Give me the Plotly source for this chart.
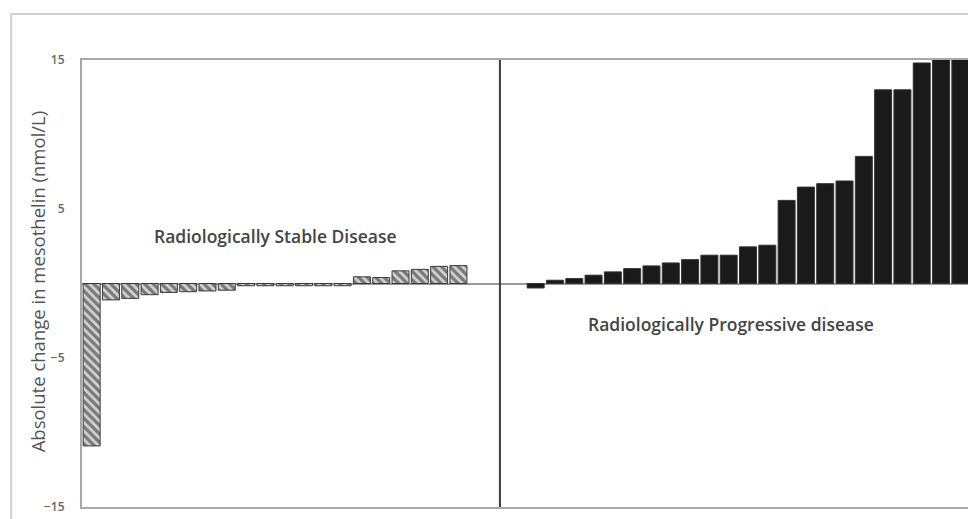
import plotly.graph_objects as go

# Data
stable_values = [-10.9, -1.1, -1.0, -0.75, -0.6, -0.55, -0.5, -0.45,
                 -0.15, -0.15, -0.15, -0.15, -0.15, -0.15,
                 0.45, 0.4, 0.85, 0.95, 1.15, 1.2]
progressive_values = [-0.3, 0.22, 0.33, 0.56, 0.78, 1.0, 1.18, 1.38, 1.6,
                      1.9, 1.9, 2.46, 2.57, 5.58, 6.47, 6.7, 6.88, 8.53,
                      13.0, 13.0, 14.8, 16.5, 18.0]
n_gap = 3
y_ticks = [-15, -5, 5, 15]
y_title = "Absolute change in mesothelin (nmol/L)"
label_stable = "Radiologically Stable Disease"
label_progressive = "Radiologically Progressive disease"

stable_x = list(range(len(stable_values)))
prog_start = len(stable_values) + n_gap
progressive_x = list(range(prog_start, prog_start + len(progressive_values)))
n_total = prog_start + len(progressive_values)
divider_x = len(stable_values) + 1.15

font_family = "Open Sans, Noto Sans, sans-serif"

# page body has an 8px margin; plot area in figure coords
L, T, PW, PH = 74, 52, 890, 447

fig = go.Figure()
fig.add_trace(go.Bar(
    x=stable_x, y=stable_values,
    marker=dict(color="#c0c0c0",
                line=dict(color="#3a3a3a", width=1),
                pattern=dict(shape="\\", fgcolor="#1e1e1e", bgcolor="#d4d4d4",
                             size=6, solidity=0.55)),
    showlegend=False,
))
fig.add_trace(go.Bar(
    x=progressive_x, y=progressive_values,
    marker=dict(color="#1a1a1a", line=dict(color="#333333", width=1)),
    showlegend=False,
))

fig.update_layout(
    width=976, height=519,
    margin=dict(l=L, r=976 - L - PW, t=T, b=519 - T - PH),
    paper_bgcolor="white", plot_bgcolor="white",
    bargap=0.12,
    font=dict(family=font_family, color="#555555"),
    xaxis=dict(range=[-0.5, n_total - 0.5], showticklabels=False,
               showgrid=False, zeroline=False, showline=True,
               linecolor="#a8a8a8", linewidth=2, mirror=True, ticks=""),
    yaxis=dict(range=[-15, 15], tickvals=y_ticks, showgrid=False,
               zeroline=True, zerolinecolor="#9a9a9a", zerolinewidth=2,
               showline=True, linecolor="#a8a8a8", linewidth=2, mirror=True,
               ticks="", ticklabelstandoff=13,
               tickfont=dict(size=12, color="#666666", weight=600)),
    shapes=[
        dict(type="line", xref="x", yref="paper", x0=divider_x, x1=divider_x,
             y0=0, y1=1, line=dict(color="#3c3c3c", width=2)),
        dict(type="rect", xref="paper", yref="paper",
             x0=(3 - L) / PW, x1=1.03, y0=-0.08, y1=(T + PH - 6) / PH,
             line=dict(color="#d0d0d0", width=2), layer="below"),
    ],
    annotations=[
        dict(x=(29 - L) / PW, y=0.505, xref="paper", yref="paper",
             text=y_title, textangle=-90, showarrow=False,
             xanchor="center", yanchor="middle",
             font=dict(size=18.5, color="#555555")),
        dict(x=9.5, y=3.2, xref="x", yref="y", text=label_stable,
             showarrow=False, font=dict(size=17.5, color="#444444", weight=600)),
        dict(x=33.1, y=-2.7, xref="x", yref="y", text=label_progressive,
             showarrow=False, font=dict(size=17.5, color="#444444", weight=600)),
    ],
)

fig.write_html("out.html")
